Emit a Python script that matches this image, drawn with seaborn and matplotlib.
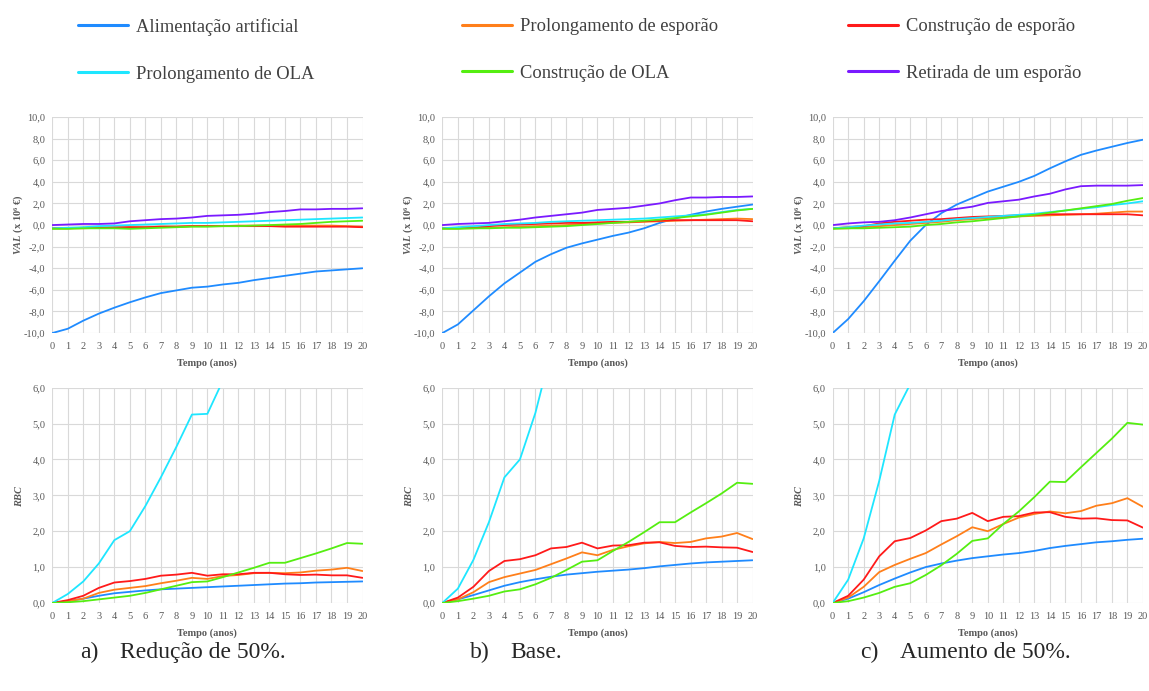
import numpy as np
import pandas as pd
import matplotlib
matplotlib.use('Agg')
import matplotlib.pyplot as plt
import seaborn as sns
from matplotlib.ticker import FuncFormatter, MultipleLocator

sns.set_style('white')
plt.rcParams['font.family'] = ['Liberation Serif', 'DejaVu Serif']
plt.rcParams['mathtext.fontset'] = 'custom'
plt.rcParams['mathtext.bfit'] = 'Liberation Serif:italic:bold'

nan = np.nan
anos = list(range(21))

series = ['Alimentação artificial', 'Prolongamento de esporão', 'Construção de esporão',
          'Prolongamento de OLA', 'Construção de OLA', 'Retirada de um esporão']
cores = ['#1f8bff', '#ff7f1a', '#ff1a1a', '#1ee6ff', '#55ee11', '#7a1aff']
letras = ['a)', 'b)', 'c)']
cenarios = ['Redução de 50%.', 'Base.', 'Aumento de 50%.']

# VAL (x 10^6 EUR) - a) reducao 50%
val_a_alim = [-10.0, -9.6, -8.85, -8.2, -7.65, -7.15, -6.7, -6.3, -6.05, -5.8, -5.7, -5.5, -5.35, -5.1, -4.9, -4.7, -4.5, -4.3, -4.2, -4.1, -4.0]
val_a_prol_esp = [-0.3, -0.3, -0.3, -0.25, -0.25, -0.2, -0.2, -0.15, -0.15, -0.1, -0.1, -0.1, -0.05, -0.05, -0.05, -0.05, -0.05, -0.05, -0.05, -0.1, -0.15]
val_a_cons_esp = [-0.3, -0.3, -0.25, -0.25, -0.2, -0.2, -0.2, -0.15, -0.15, -0.1, -0.1, -0.1, -0.1, -0.1, -0.1, -0.15, -0.15, -0.15, -0.15, -0.15, -0.2]
val_a_prol_ola = [-0.3, -0.25, -0.2, -0.1, -0.05, 0.0, 0.05, 0.1, 0.15, 0.2, 0.2, 0.25, 0.3, 0.35, 0.4, 0.45, 0.5, 0.55, 0.6, 0.65, 0.7]
val_a_cons_ola = [-0.35, -0.35, -0.3, -0.3, -0.3, -0.35, -0.3, -0.25, -0.2, -0.15, -0.15, -0.1, -0.1, -0.05, 0.0, 0.05, 0.1, 0.2, 0.3, 0.35, 0.4]
val_a_retirada = [0.0, 0.05, 0.1, 0.1, 0.15, 0.35, 0.45, 0.55, 0.6, 0.7, 0.85, 0.9, 0.95, 1.05, 1.2, 1.3, 1.45, 1.45, 1.5, 1.5, 1.55]

# VAL - b) base
val_b_alim = [-10.0, -9.2, -7.9, -6.6, -5.4, -4.4, -3.4, -2.7, -2.1, -1.7, -1.35, -1.0, -0.7, -0.3, 0.2, 0.6, 0.95, 1.25, 1.5, 1.7, 1.9]
val_b_prol_esp = [-0.3, -0.3, -0.3, -0.25, -0.2, -0.15, -0.1, -0.05, 0.0, 0.1, 0.15, 0.2, 0.25, 0.3, 0.35, 0.4, 0.45, 0.5, 0.55, 0.6, 0.55]
val_b_cons_esp = [-0.3, -0.3, -0.25, -0.1, 0.0, 0.05, 0.1, 0.15, 0.2, 0.2, 0.25, 0.3, 0.3, 0.35, 0.4, 0.45, 0.45, 0.45, 0.45, 0.45, 0.35]
val_b_prol_ola = [-0.3, -0.2, -0.1, 0.0, 0.1, 0.15, 0.2, 0.3, 0.35, 0.4, 0.45, 0.5, 0.55, 0.6, 0.7, 0.8, 0.9, 1.0, 1.2, 1.4, 1.5]
val_b_cons_ola = [-0.35, -0.35, -0.3, -0.3, -0.25, -0.25, -0.2, -0.15, -0.1, 0.0, 0.1, 0.2, 0.3, 0.4, 0.5, 0.65, 0.8, 0.95, 1.15, 1.35, 1.5]
val_b_retirada = [0.0, 0.1, 0.15, 0.2, 0.35, 0.5, 0.7, 0.85, 1.0, 1.15, 1.4, 1.5, 1.6, 1.8, 2.0, 2.3, 2.55, 2.55, 2.6, 2.6, 2.65]

# VAL - c) aumento 50%
val_c_alim = [-10.0, -8.7, -7.05, -5.2, -3.3, -1.45, 0.0, 1.1, 1.9, 2.5, 3.1, 3.55, 4.0, 4.55, 5.25, 5.9, 6.5, 6.9, 7.25, 7.6, 7.9]
val_c_prol_esp = [-0.3, -0.3, -0.2, -0.1, 0.0, 0.1, 0.2, 0.3, 0.45, 0.55, 0.65, 0.7, 0.8, 0.85, 0.9, 0.95, 1.0, 1.05, 1.15, 1.25, 1.25]
val_c_cons_esp = [-0.3, -0.2, -0.1, 0.15, 0.3, 0.4, 0.5, 0.55, 0.65, 0.75, 0.8, 0.85, 0.9, 0.95, 1.0, 1.0, 1.0, 1.0, 1.0, 1.0, 0.9]
val_c_prol_ola = [-0.3, -0.2, -0.05, 0.05, 0.15, 0.2, 0.3, 0.4, 0.55, 0.65, 0.75, 0.85, 0.95, 1.05, 1.2, 1.35, 1.5, 1.65, 1.85, 2.0, 2.2]
val_c_cons_ola = [-0.35, -0.3, -0.3, -0.25, -0.2, -0.15, 0.0, 0.1, 0.25, 0.35, 0.5, 0.65, 0.8, 0.95, 1.15, 1.35, 1.55, 1.75, 1.95, 2.25, 2.5]
val_c_retirada = [0.0, 0.15, 0.25, 0.3, 0.45, 0.7, 1.0, 1.3, 1.5, 1.7, 2.05, 2.2, 2.35, 2.65, 2.9, 3.3, 3.6, 3.65, 3.65, 3.65, 3.7]

# RBC - a)
rbc_a_alim = [0.0, 0.05, 0.12, 0.2, 0.27, 0.31, 0.35, 0.38, 0.4, 0.42, 0.44, 0.46, 0.48, 0.5, 0.52, 0.54, 0.55, 0.57, 0.58, 0.59, 0.6]
rbc_a_prol_esp = [0.0, 0.05, 0.12, 0.28, 0.37, 0.42, 0.47, 0.55, 0.62, 0.7, 0.67, 0.75, 0.78, 0.83, 0.84, 0.83, 0.85, 0.9, 0.93, 0.98, 0.89]
rbc_a_cons_esp = [0.0, 0.08, 0.2, 0.42, 0.57, 0.61, 0.67, 0.76, 0.79, 0.84, 0.76, 0.8, 0.8, 0.84, 0.84, 0.8, 0.78, 0.79, 0.77, 0.77, 0.7]
rbc_a_prol_ola = [0.0, 0.25, 0.6, 1.1, 1.75, 2.0, 2.7, 3.5, 4.35, 5.25, 5.27, 6.2, nan, nan, nan, nan, nan, nan, nan, nan, nan]
rbc_a_cons_ola = [0.0, 0.02, 0.05, 0.1, 0.15, 0.2, 0.28, 0.38, 0.48, 0.58, 0.6, 0.72, 0.85, 0.98, 1.12, 1.12, 1.25, 1.38, 1.52, 1.67, 1.65]

# RBC - b)
rbc_b_alim = [0.0, 0.1, 0.22, 0.35, 0.48, 0.58, 0.66, 0.73, 0.79, 0.83, 0.87, 0.9, 0.93, 0.97, 1.02, 1.06, 1.1, 1.13, 1.15, 1.17, 1.19]
rbc_b_prol_esp = [0.0, 0.1, 0.3, 0.58, 0.72, 0.82, 0.92, 1.08, 1.24, 1.41, 1.33, 1.48, 1.58, 1.66, 1.7, 1.67, 1.7, 1.8, 1.85, 1.95, 1.78]
rbc_b_cons_esp = [0.0, 0.15, 0.45, 0.89, 1.17, 1.22, 1.33, 1.52, 1.56, 1.68, 1.52, 1.6, 1.61, 1.68, 1.69, 1.59, 1.56, 1.57, 1.55, 1.54, 1.42]
rbc_b_prol_ola = [0.0, 0.4, 1.2, 2.25, 3.5, 4.0, 5.3, 7.0, nan, nan, nan, nan, nan, nan, nan, nan, nan, nan, nan, nan, nan]
rbc_b_cons_ola = [0.0, 0.05, 0.12, 0.2, 0.32, 0.38, 0.52, 0.7, 0.92, 1.15, 1.19, 1.45, 1.7, 1.97, 2.25, 2.25, 2.52, 2.78, 3.05, 3.35, 3.32]

# RBC - c)
rbc_c_alim = [0.0, 0.12, 0.3, 0.5, 0.68, 0.85, 1.0, 1.1, 1.18, 1.25, 1.3, 1.35, 1.39, 1.45, 1.53, 1.59, 1.64, 1.69, 1.72, 1.76, 1.79]
rbc_c_prol_esp = [0.0, 0.15, 0.45, 0.86, 1.06, 1.23, 1.39, 1.63, 1.86, 2.11, 2.0, 2.2, 2.38, 2.48, 2.55, 2.5, 2.56, 2.71, 2.78, 2.92, 2.68]
rbc_c_cons_esp = [0.0, 0.2, 0.65, 1.3, 1.72, 1.81, 2.02, 2.28, 2.35, 2.51, 2.28, 2.4, 2.42, 2.52, 2.53, 2.4, 2.35, 2.36, 2.31, 2.3, 2.1]
rbc_c_prol_ola = [0.0, 0.65, 1.8, 3.4, 5.25, 6.1, nan, nan, nan, nan, nan, nan, nan, nan, nan, nan, nan, nan, nan, nan, nan]
rbc_c_cons_ola = [0.0, 0.05, 0.15, 0.28, 0.45, 0.55, 0.78, 1.05, 1.37, 1.73, 1.8, 2.2, 2.55, 2.95, 3.38, 3.37, 3.78, 4.18, 4.58, 5.02, 4.97]

val = [
    [val_a_alim, val_a_prol_esp, val_a_cons_esp, val_a_prol_ola, val_a_cons_ola, val_a_retirada],
    [val_b_alim, val_b_prol_esp, val_b_cons_esp, val_b_prol_ola, val_b_cons_ola, val_b_retirada],
    [val_c_alim, val_c_prol_esp, val_c_cons_esp, val_c_prol_ola, val_c_cons_ola, val_c_retirada],
]
rbc = [
    [rbc_a_alim, rbc_a_prol_esp, rbc_a_cons_esp, rbc_a_prol_ola, rbc_a_cons_ola],
    [rbc_b_alim, rbc_b_prol_esp, rbc_b_cons_esp, rbc_b_prol_ola, rbc_b_cons_ola],
    [rbc_c_alim, rbc_c_prol_esp, rbc_c_cons_esp, rbc_c_prol_ola, rbc_c_cons_ola],
]


def to_df(lists):
    rows = []
    for nome, vals in zip(series, lists):
        for a, v in zip(anos, vals):
            rows.append((a, v, nome))
    return pd.DataFrame(rows, columns=['ano', 'valor', 'serie']).dropna()


grey = '#595959'
fmt = FuncFormatter(lambda v, p: f'{v:.1f}'.replace('.', ','))


def style_ax(ax, ylim, step, ylabel, ypad):
    ax.set_xlim(0, 20)
    ax.set_ylim(*ylim)
    ax.xaxis.set_major_locator(MultipleLocator(1))
    ax.yaxis.set_major_locator(MultipleLocator(step))
    ax.yaxis.set_major_formatter(fmt)
    ax.grid(True, color='#d9d9d9', linewidth=0.8)
    ax.set_axisbelow(True)
    for s in ax.spines.values():
        s.set_visible(False)
    ax.tick_params(length=0, labelsize=7.5, labelcolor=grey)
    ax.tick_params(axis='x', pad=6.5)
    ax.tick_params(axis='y', pad=5)
    ax.set_xlabel('Tempo (anos)', fontsize=7.5, fontweight='bold', color=grey, labelpad=5)
    ax.set_ylabel(ylabel, fontsize=7.5, fontweight='bold', color=grey, labelpad=ypad)


fig = plt.figure(figsize=(11.49, 6.91), dpi=100)
lefts = [0.0455, 0.385, 0.7247]
w = 0.27
handles = labels = None
for i in range(3):
    ax1 = fig.add_axes([lefts[i], 0.518, w, 0.3126])
    sns.lineplot(data=to_df(val[i]), x='ano', y='valor', hue='serie', hue_order=series,
                 palette=cores, linewidth=1.3, estimator=None, legend=(i == 0), ax=ax1)
    if i == 0:
        handles, labels = ax1.get_legend_handles_labels()
        ax1.get_legend().remove()
    style_ax(ax1, (-10, 10), 2, r'$\mathbfit{VAL}$ (x 10⁶ €)', -1)

    ax2 = fig.add_axes([lefts[i], 0.1274, w, 0.3116])
    sns.lineplot(data=to_df(rbc[i]), x='ano', y='valor', hue='serie', hue_order=series[:5],
                 palette=cores[:5], linewidth=1.3, estimator=None, legend=False, ax=ax2)
    style_ax(ax2, (0, 6), 1, r'$\mathbfit{RBC}$', 6)

    x0 = lefts[i] + 0.024
    fig.text(x0, 0.056, letras[i], fontsize=17, color='#262626', va='center')
    fig.text(x0 + 40 / 1149, 0.056, cenarios[i], fontsize=17, color='#262626', va='center')

# legend: three columns, two rows
col_x = [0.068, 0.402, 0.738]
for c in range(3):
    idx = [c, c + 3]
    hs = [handles[k] for k in idx]
    for h in hs:
        h.set_linewidth(2.2)
    fig.legend(hs, [labels[k] for k in idx], loc='upper left', bbox_to_anchor=(col_x[c], 0.974),
               frameon=False, fontsize=13.3, handlelength=2.7, handletextpad=0.45,
               labelspacing=1.62, borderpad=0, borderaxespad=0, labelcolor='#404040')

fig.savefig('out.png', dpi=100)
